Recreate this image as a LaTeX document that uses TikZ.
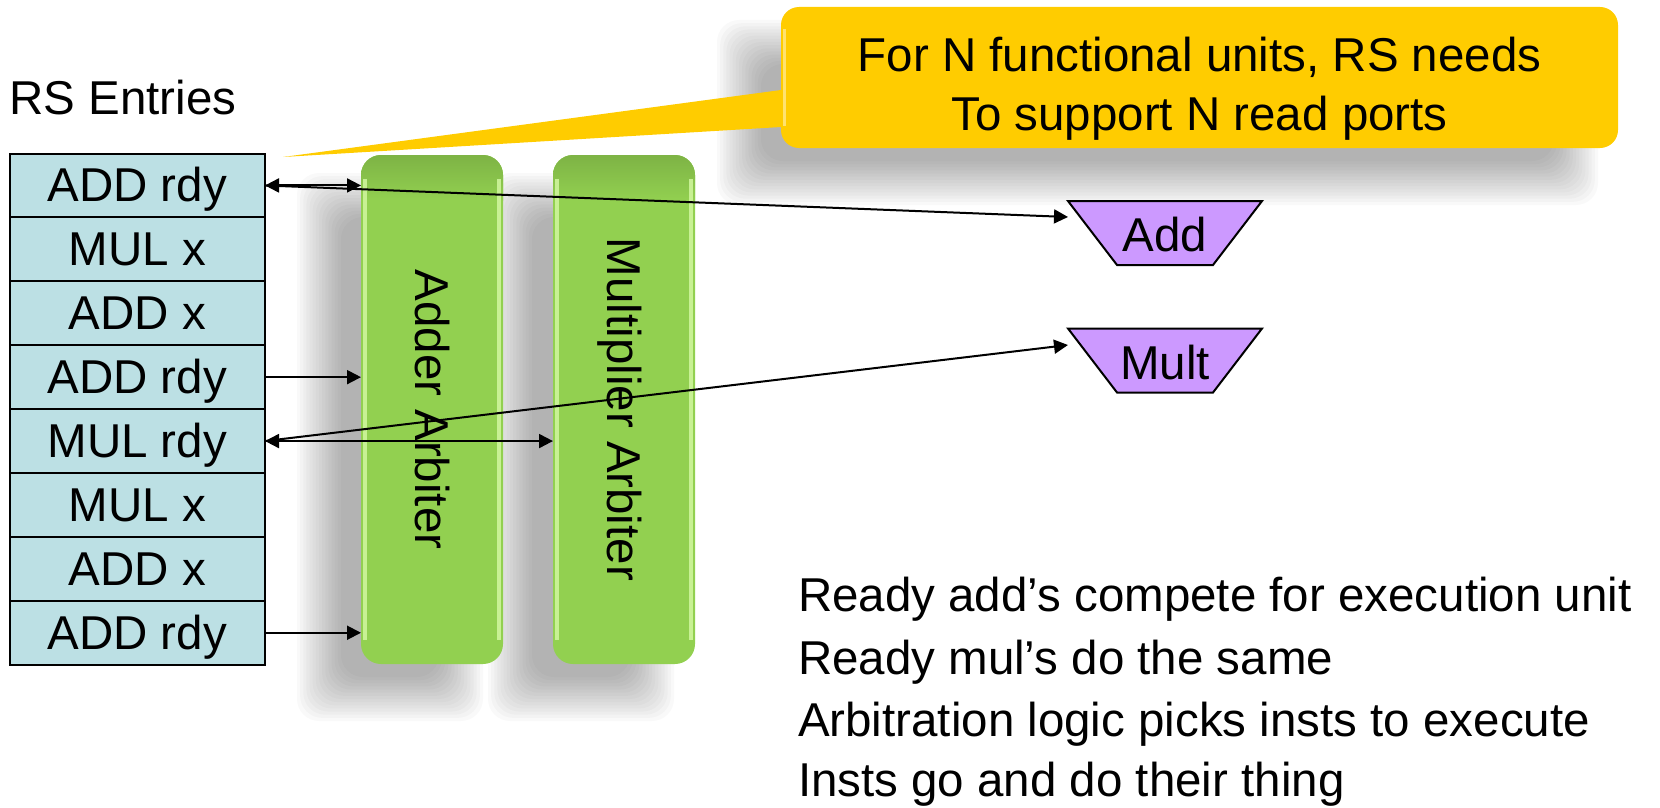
\documentclass[tikz,border=0pt]{standalone}
\usepackage{fontspec}
\setmainfont{Liberation Sans}
\usetikzlibrary{arrows.meta}
\definecolor{rsblue}{HTML}{BCE0E4}
\definecolor{arbgreen}{HTML}{92D050}
\definecolor{arbhi}{HTML}{D2F7A0}
\definecolor{callyellow}{HTML}{FFCC00}
\definecolor{fupurple}{HTML}{CC99FF}
\newcommand\mysoftshadow[4]{%
  \foreach \k in {0,...,14}{%
    \pgfmathsetmacro\dd{-22+44*\k/14}%
    \pgfmathsetmacro\ax{#1+\dd}%
    \pgfmathsetmacro\ay{#2+\dd}%
    \pgfmathsetmacro\bx{#3-\dd}%
    \pgfmathsetmacro\by{#4-\dd}%
    \fill[black,opacity=0.024,rounded corners=22pt] (\ax,\ay) rectangle (\bx,\by);
  }%
}
\begin{document}
\begin{tikzpicture}[x=1pt,y=-1pt,
  every node/.style={inner sep=0pt, outer sep=0pt},
  txt/.style={font=\fontsize{47.5}{57}\selectfont},
  row/.style={txt, draw=black, line width=2pt, fill=rsblue,
    minimum width=255.5pt, minimum height=63.9pt, text height=43pt, text depth=10pt},
  arb/.style={fill=arbgreen, rounded corners=20pt, minimum width=142pt, minimum height=509pt},
  arblabel/.style={txt, rotate=-90, text height=43pt, text depth=10pt},
  fubox/.style={minimum width=194pt, minimum height=64pt},
  fushape/.style={draw=black, line width=2pt, fill=fupurple, line join=miter},
  callbox/.style={fill=callyellow, rounded corners=18pt, minimum width=837pt, minimum height=141pt},
  arr/.style={line width=2pt, -{Triangle[length=14pt,width=14pt]}},
  arrb/.style={line width=2pt, {Triangle[length=14pt,width=14pt]}-{Triangle[length=14pt,width=14pt]}}
]
\useasboundingbox (0,0) rectangle (1660,808);

% shadows
\mysoftshadow{739}{42}{1576}{183}
\mysoftshadow{319}{195}{461}{699}
\mysoftshadow{510}{195}{652}{699}

% callout
\coordinate (tip) at (283,157);
\fill[callyellow] (781,90) -- (tip) -- (781,127) -- cycle;
\node[callbox] (call) at (1199.5,77.5) {};
\draw[line width=3pt, white!55!callyellow, opacity=.8] ([xshift=3pt,yshift=-22pt]call.north west) -- ([xshift=3pt,yshift=22pt]call.south west);
\node[txt, anchor=base] (cl1) at (1199.5,71.7) {For N functional units, RS needs};
\node[txt, anchor=base] (cl2) at (1199.5,130) {To support N read ports};

% arbiters
\node[arb] (adb) at (432,409.5) {};
\node[arb] (mlb) at (624,409.5) {};
\foreach \b in {adb,mlb}{
  \begin{scope}
    \clip[rounded corners=20pt] (\b.north west) rectangle (\b.south east);
    \shade[top color=arbgreen!86!black, bottom color=arbgreen] (\b.north west) rectangle ([yshift=-45pt]\b.north east);
  \end{scope}
  \draw[arbhi, line width=4pt, opacity=.85] ([xshift=4pt,yshift=-24pt]\b.north west) -- ([xshift=4pt,yshift=24pt]\b.south west);
  \draw[arbhi, line width=4pt, opacity=.85] ([xshift=-4pt,yshift=-24pt]\b.north east) -- ([xshift=-4pt,yshift=24pt]\b.south east);
}
\node[arblabel] (adt) at (adb.center) {Adder Arbiter};
\node[arblabel] (mlt) at (mlb.center) {Multiplier Arbiter};

% RS table
\node[txt, anchor=base west] (rshead) at (9.5,114.3) {RS Entries};
\node[row] (r1) at (137.25,185.45) {ADD rdy};
\node[row] (r2) at (137.25,249.35) {MUL x};
\node[row] (r3) at (137.25,313.25) {ADD x};
\node[row] (r4) at (137.25,377.15) {ADD rdy};
\node[row] (r5) at (137.25,441.05) {MUL rdy};
\node[row] (r6) at (137.25,504.95) {MUL x};
\node[row] (r7) at (137.25,568.85) {ADD x};
\node[row] (r8) at (137.25,632.75) {ADD rdy};

% functional units
\node[fubox] (add) at (1165,233) {};
\node[fubox] (mul) at (1165,360.5) {};
\foreach \f in {add,mul}{
  \draw[fushape] (\f.north west) -- (\f.north east) -- ([xshift=-49pt]\f.south east) -- ([xshift=49pt]\f.south west) -- cycle;
}
\node[txt, anchor=base, yshift=-18pt] (addt) at (add.center) {Add};
\node[txt, anchor=base, yshift=-19pt] (mult) at (mul.center) {Mult};
\coordinate (addin) at (1068,217);
\coordinate (mulin) at (1068,345);

% notes
\node[txt, anchor=base west] (n1) at (798,611) {Ready add’s compete for execution unit};
\node[txt, anchor=base west] (n2) at (798,674) {Ready mul’s do the same};
\node[txt, anchor=base west] (n3) at (798,736) {Arbitration logic picks insts to execute};
\node[txt, anchor=base west] (n4) at (798,796) {Insts go and do their thing};

% connectors
\draw[arrb] (r1.east) -- (r1.east -| adb.west);
\draw[arr] (r1.east) -- (addin);
\draw[arr] (r4.east) -- (r4.east -| adb.west);
\draw[arr] (r8.east) -- (r8.east -| adb.west);
\draw[arrb] (r5.east) -- (r5.east -| mlb.west);
\draw[arr] (r5.east) -- (mulin);
\end{tikzpicture}
\end{document}
